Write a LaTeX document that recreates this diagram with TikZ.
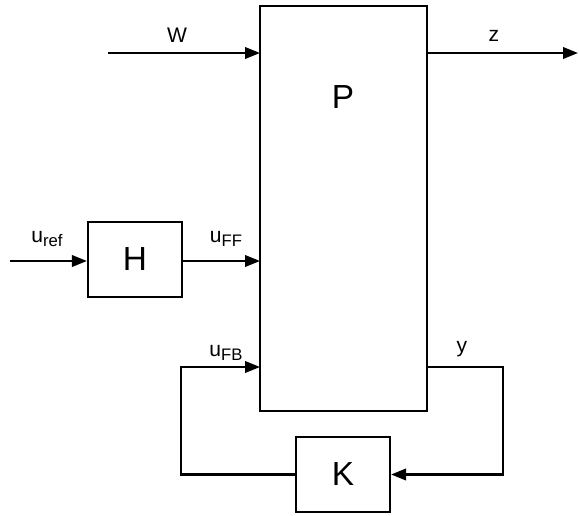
\documentclass[tikz,border=0pt]{standalone}
\usepackage{fontspec}
\setmainfont{Liberation Sans}
\usetikzlibrary{arrows.meta}
\newcommand{\mysub}[1]{\raisebox{-0.35ex}{\fontsize{9.5}{11}\selectfont #1}}
\begin{document}
\begin{tikzpicture}[x=0.02cm,y=-0.02cm,
  blk/.style={draw, line width=1.25pt, inner sep=0pt},
  sig/.style={line width=1.25pt, -{Triangle[length=0.3cm,width=0.23cm]}},
  lbl/.style={font=\fontsize{12}{14}\selectfont, inner sep=0pt},
  big/.style={font=\fontsize{19}{22}\selectfont}]
\useasboundingbox (0,0) rectangle (579,515);
\node[blk, minimum width=3.34cm, minimum height=8.1cm] (P) at (343.5,208.5) {};
\node[big] (Pl) at (343,97) {P};
\node[blk, minimum width=1.88cm, minimum height=1.5cm, big] (H) at (135,259.5) {H};
\node[blk, minimum width=1.88cm, minimum height=1.5cm, big] (K) at (343,474.5) {K};
\coordinate (win) at (108,53);
\coordinate (wP) at (260,53);
\coordinate (zP) at (427,53);
\coordinate (zout) at (578,53);
\coordinate (uin) at (10,261);
\coordinate (uffP) at (260,261);
\coordinate (ufbP) at (260,367);
\coordinate (yP) at (427,367);
\coordinate (yc) at (503,367);
\coordinate (fbc) at (181,367);
\draw[sig] (win) -- (wP);
\draw[sig] (zP) -- (zout);
\draw[sig] (uin) -- (uin -| H.west);
\draw[sig] (uin -| H.east) -- (uffP);
\draw[sig] (yP) -- (yc) |- (K.east);
\draw[sig] (K.west) -| (fbc) -- (ufbP);
\node[lbl] (wl) at (177,35) {W};
\node[lbl] (zl) at (494,36) {z};
\node[lbl] (ul) at (47,239) {u\mysub{ref}};
\node[lbl] (uffl) at (226,239) {u\mysub{FF}};
\node[lbl] (ufbl) at (226,353) {u\mysub{FB}};
\node[lbl] (yl) at (462,349) {y};
\end{tikzpicture}
\end{document}
